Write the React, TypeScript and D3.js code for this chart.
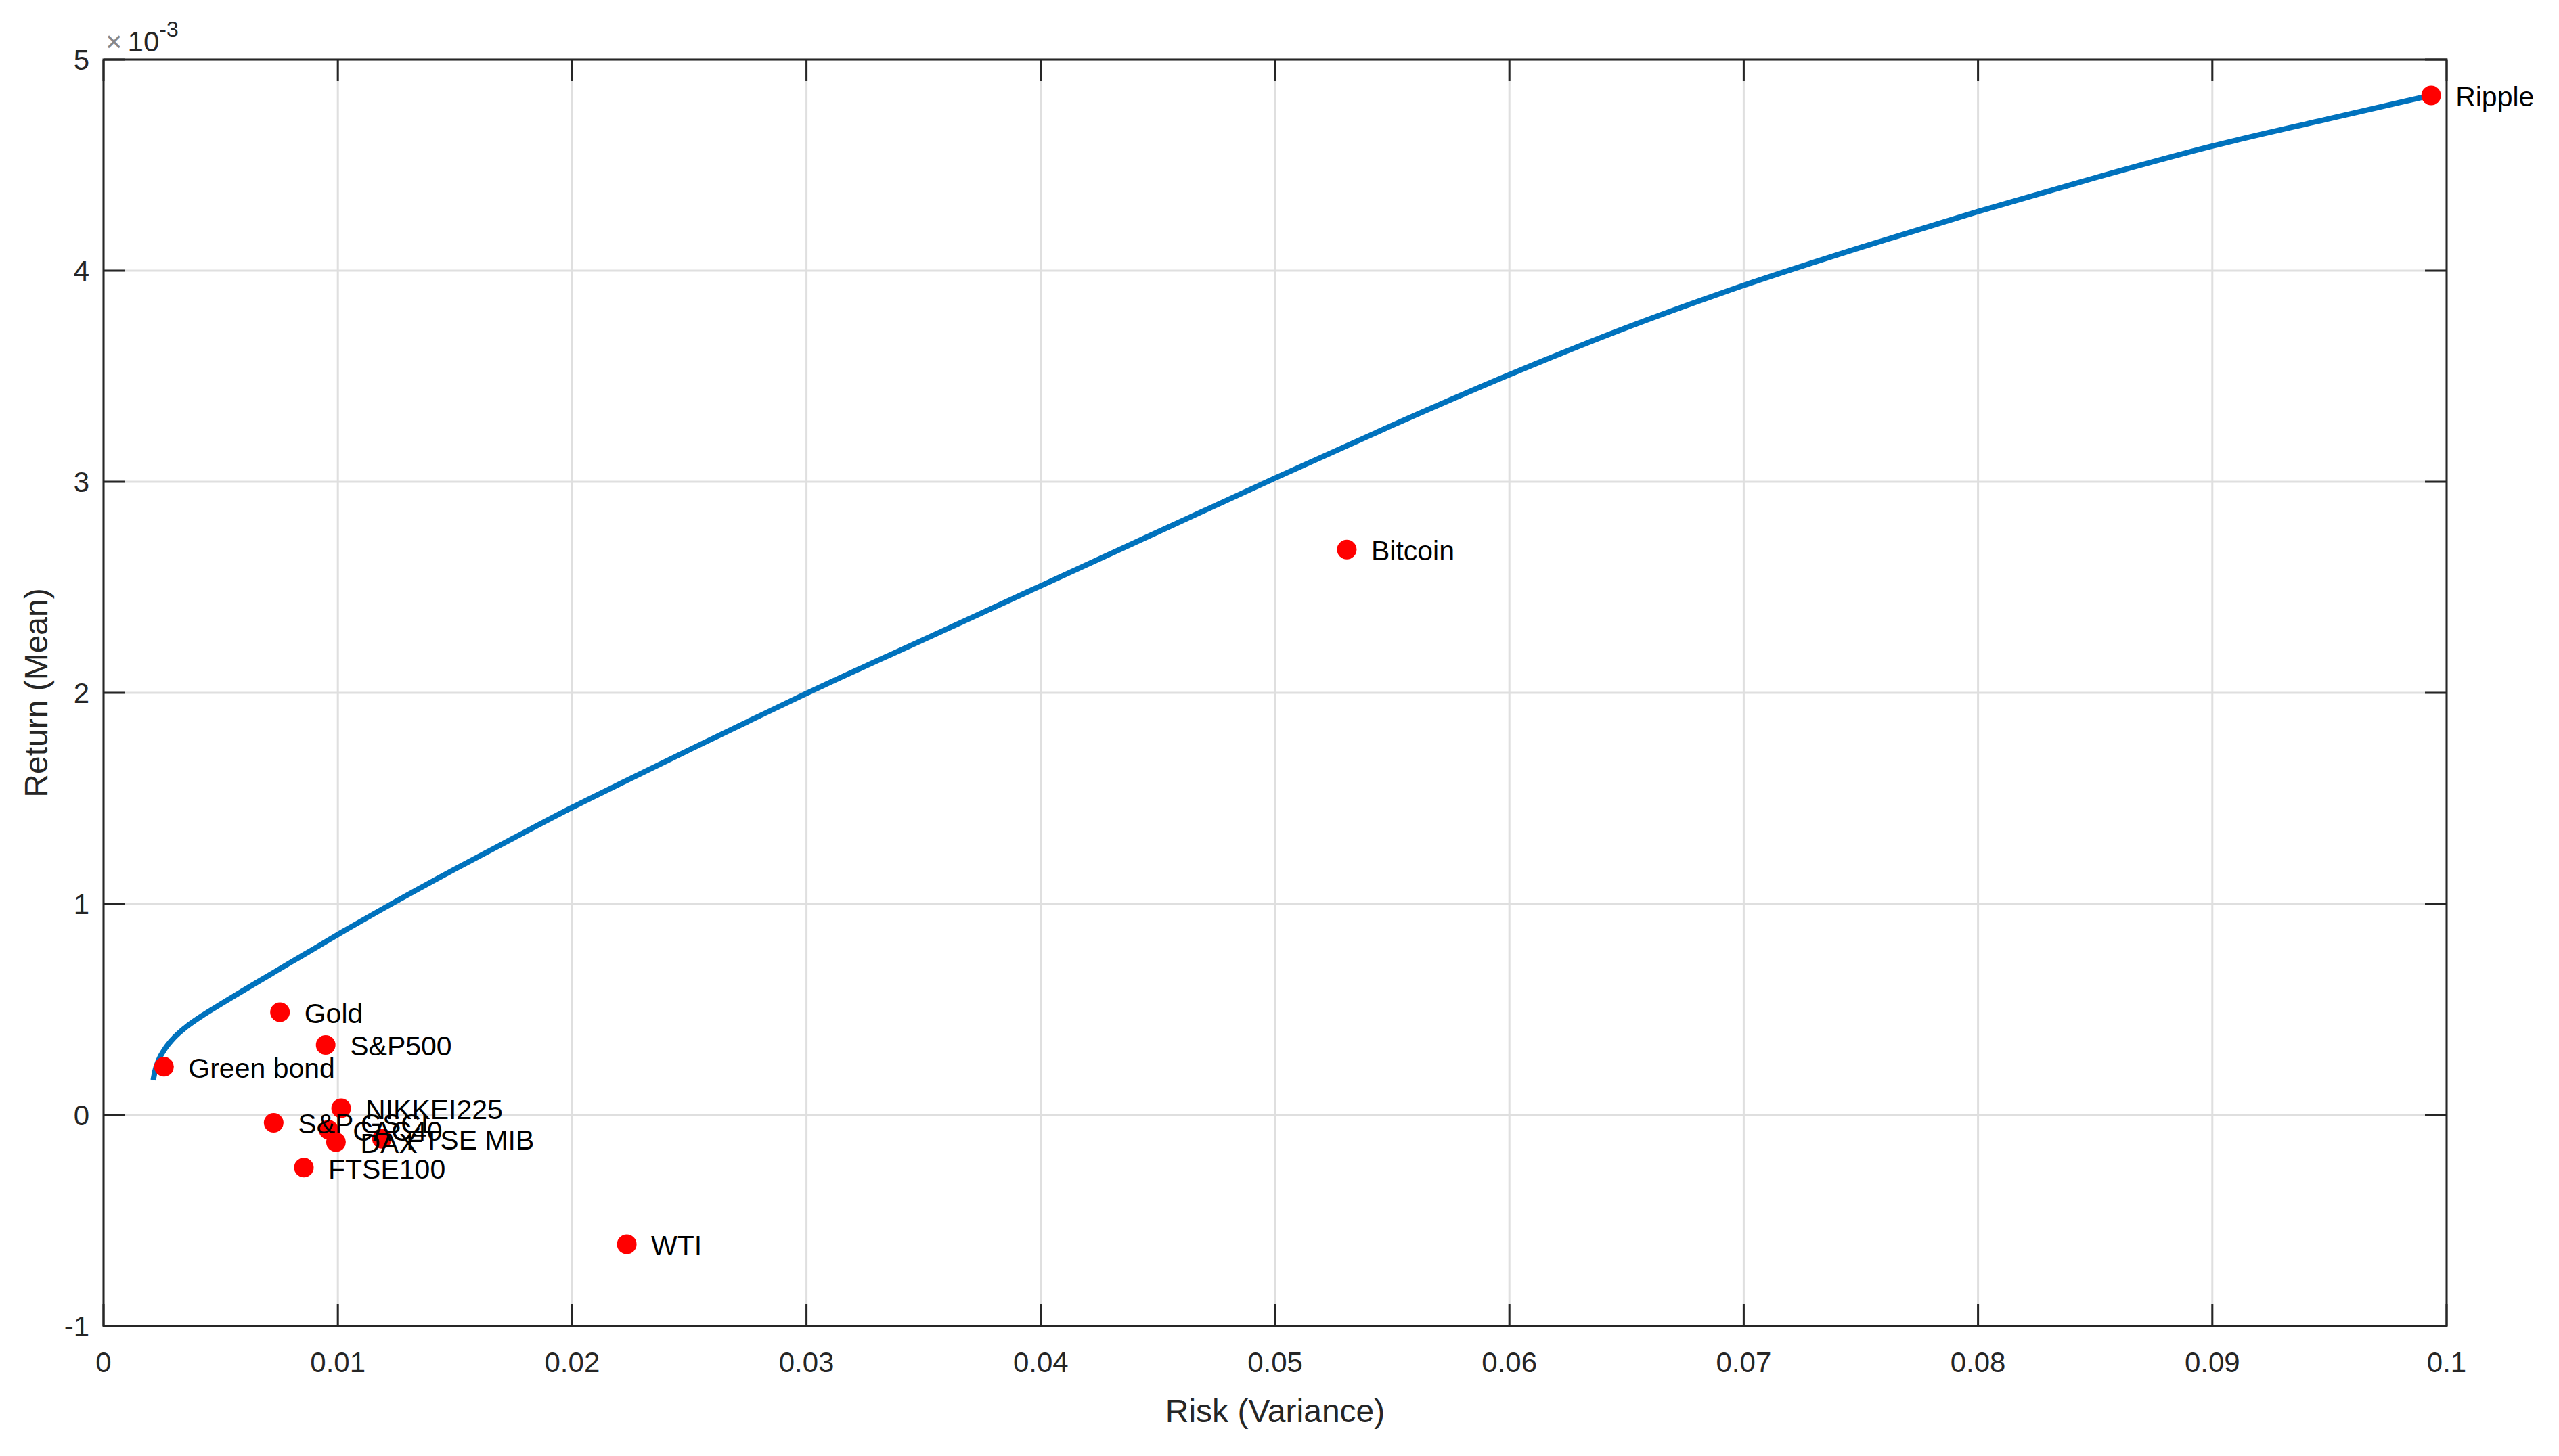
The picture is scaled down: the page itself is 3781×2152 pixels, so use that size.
import React from "react";
import * as d3 from "d3";

const frontierRisk = [0.00212, 0.0022, 0.00235, 0.0026, 0.003, 0.0035, 0.0042, 0.005, 0.006, 0.007, 0.008, 0.009, 0.01, 0.012, 0.015, 0.0175, 0.02, 0.0225, 0.025, 0.0275, 0.03, 0.035, 0.04, 0.045, 0.05, 0.055, 0.06, 0.065, 0.07, 0.075, 0.08, 0.085, 0.09, 0.095, 0.0993];
const frontierReturn = [0.165, 0.21, 0.26, 0.31, 0.365, 0.415, 0.47, 0.525, 0.592, 0.658, 0.724, 0.789, 0.855, 0.982, 1.165, 1.312, 1.457, 1.594, 1.73, 1.864, 1.997, 2.252, 2.507, 2.762, 3.017, 3.267, 3.507, 3.73, 3.93, 4.11, 4.28, 4.44, 4.59, 4.72, 4.83];

const assetNames = ["Green bond", "Gold", "S&P500", "NIKKEI225", "S&P GSCI", "CAC40", "DAX", "FTSE MIB", "FTSE100", "WTI", "Bitcoin", "Ripple"];
const assetRisk = [0.00258, 0.00753, 0.00948, 0.01014, 0.00726, 0.0096, 0.00992, 0.01188, 0.00855, 0.02233, 0.05306, 0.09934];
const assetReturn = [0.228, 0.487, 0.332, 0.032, -0.037, -0.07, -0.128, -0.113, -0.249, -0.612, 2.679, 4.83];

const xTicks = [0, 0.01, 0.02, 0.03, 0.04, 0.05, 0.06, 0.07, 0.08, 0.09, 0.1];
const yTicks = [-1, 0, 1, 2, 3, 4, 5];

const W = 3781;
const H = 2152;
const L = 153, R = 3615, T = 88, B = 1960;
const FONT = "'Liberation Sans', Arial, Helvetica, sans-serif";

export default function App() {
  const x = d3.scaleLinear().domain([0, 0.1]).range([L, R]);
  const y = d3.scaleLinear().domain([-1, 5]).range([B, T]);
  const line = d3
    .line<number>()
    .x((_, i) => x(frontierRisk[i]))
    .y((d) => y(d))
    .curve(d3.curveMonotoneX);
  const tickLen = 32;
  const axisColor = "#262626";
  const fmt = (v: number) => (v === 0 ? "0" : String(+v.toFixed(2)));

  return (
    <svg width={W} height={H} style={{ position: "absolute", left: 0, top: 0, background: "#fff" }} fontFamily={FONT}>
      <rect x={0} y={0} width={W} height={H} fill="#fff" />
      {xTicks.map((t) => (
        <line key={"gx" + t} x1={x(t)} x2={x(t)} y1={T} y2={B} stroke="#dfdfdf" strokeWidth={3} />
      ))}
      {yTicks.map((t) => (
        <line key={"gy" + t} x1={L} x2={R} y1={y(t)} y2={y(t)} stroke="#dfdfdf" strokeWidth={3} />
      ))}
      <path d={line(frontierReturn) || ""} fill="none" stroke="#0072BD" strokeWidth={8} strokeLinejoin="round" />
      {assetNames.map((n, i) => (
        <circle key={"d" + n} cx={x(assetRisk[i])} cy={y(assetReturn[i])} r={14.5} fill="#ff0000" />
      ))}
      {assetNames.map((n, i) => (
        <text key={"t" + n} x={x(assetRisk[i]) + 36} y={y(assetReturn[i]) + 5} fontSize={41} fill="#000" dominantBaseline="middle">
          {n}
        </text>
      ))}
      <rect x={L} y={T} width={R - L} height={B - T} fill="none" stroke={axisColor} strokeWidth={3} />
      {xTicks.map((t) => (
        <g key={"tx" + t}>
          <line x1={x(t)} x2={x(t)} y1={B} y2={B - tickLen} stroke={axisColor} strokeWidth={3} />
          <line x1={x(t)} x2={x(t)} y1={T} y2={T + tickLen} stroke={axisColor} strokeWidth={3} />
          <text x={x(t)} y={2028} fontSize={42} fill={axisColor} textAnchor="middle">
            {fmt(t)}
          </text>
        </g>
      ))}
      {yTicks.map((t) => (
        <g key={"ty" + t}>
          <line x1={L} x2={L + tickLen} y1={y(t)} y2={y(t)} stroke={axisColor} strokeWidth={3} />
          <line x1={R} x2={R - tickLen} y1={y(t)} y2={y(t)} stroke={axisColor} strokeWidth={3} />
          <text x={132} y={y(t) + 15} fontSize={42} fill={axisColor} textAnchor="end">
            {t}
          </text>
        </g>
      ))}
      <text x={156} y={76} fontSize={42} fill={axisColor}>
        <tspan fill="#888">×</tspan>
        <tspan dx={8}>10</tspan>
        <tspan fontSize={32} dy={-22}>-3</tspan>
      </text>
      <text x={(L + R) / 2} y={2102} fontSize={48} fill={axisColor} textAnchor="middle">
        Risk (Variance)
      </text>
      <text transform={`translate(70, ${(T + B) / 2}) rotate(-90)`} fontSize={48} fill={axisColor} textAnchor="middle">
        Return (Mean)
      </text>
    </svg>
  );
}
